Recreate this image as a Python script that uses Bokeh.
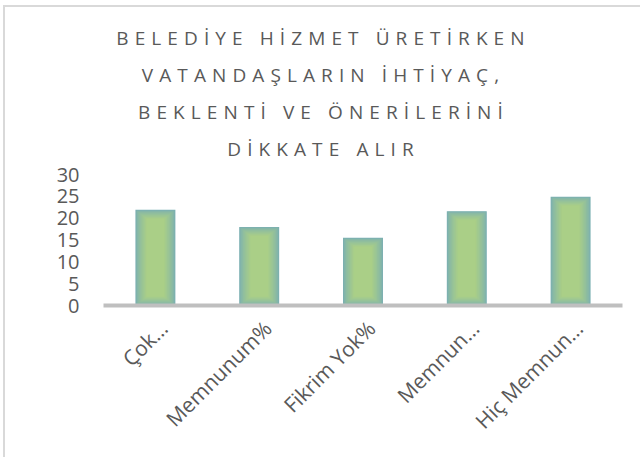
from bokeh.plotting import figure
from bokeh.models import (Range1d, Div, FixedTicker, ColumnDataSource,
                          InlineStyleSheet, LinearAxis)
from bokeh.layouts import column
from bokeh.embed import file_html
from bokeh.resources import INLINE

# ---- data ----
categories = ["Çok…", "Memnunum%", "Fikrim Yok%", "Memnun…", "Hiç Memnun…"]
values = [21.9, 18.0, 15.5, 21.6, 24.9]
title_lines = ["BELEDİYE HİZMET ÜRETİRKEN", "VATANDAŞLARIN İHTİYAÇ,",
               "BEKLENTİ VE ÖNERİLERİNİ", "DİKKATE ALIR"]
y_ticks = [0, 5, 10, 15, 20, 25, 30]

TXT = "#595959"
FONT = "Open Sans"

# ---- title as HTML (letter spaced) ----
title_html = "<br>".join(title_lines)
div = Div(
    text=(f'<div style="font-family:\'{FONT}\';font-size:19px;letter-spacing:6.1px;'
          f'line-height:37px;color:{TXT};text-align:center;white-space:nowrap;'
          f'padding-top:15px;padding-left:13px;box-sizing:border-box;width:624px;">'
          f'{title_html}</div>'),
    width=624, height=150,
)

# ---- chart ----
n_cat = len(categories)
cat_pos = [i + 0.5 for i in range(n_cat)]   # category centres
label_shift = 0.08  # Excel places rotated labels slightly right of centre
p = figure(
    width=624, height=291,
    x_range=Range1d(0, n_cat),
    y_range=Range1d(0, 30),
    x_axis_location=None,
    output_backend="svg", toolbar_location=None,
    min_border_left=103, min_border_right=2,
    min_border_top=14, min_border_bottom=146,
)
p.extra_x_ranges = {"lab": Range1d(-label_shift, n_cat - label_shift)}
p.outline_line_color = None
p.background_fill_color = "white"
p.border_fill_color = "white"
p.xgrid.grid_line_color = None
p.ygrid.grid_line_color = None

# layered bars to mimic the teal-edge / green-centre gradient
edge = (122, 175, 178)
center = (170, 207, 135)
n = 16
px_x = 103.8   # pixels per category
px_y = 4.37    # pixels per y unit
bar_w = 0.385
for k in range(n):
    t = (k / (n - 1)) ** 0.75
    col = tuple(int(round(edge[i] + (center[i] - edge[i]) * t)) for i in range(3))
    inset_x = k * 0.75
    inset_y = k * 0.6
    src = ColumnDataSource(dict(
        x=cat_pos,
        top=[v - inset_y / px_y for v in values],
        bottom=[inset_y / px_y for _ in values],
    ))
    p.vbar(x="x", top="top", bottom="bottom", width=bar_w - 2 * inset_x / px_x,
           source=src, fill_color="#%02x%02x%02x" % col, line_color=None)

# y axis
p.yaxis.ticker = FixedTicker(ticks=y_ticks)
p.yaxis.axis_line_color = None
p.yaxis.major_tick_line_color = None
p.yaxis.minor_tick_line_color = None
p.yaxis.major_label_standoff = 18
p.yaxis.major_label_text_font = FONT
p.yaxis.major_label_text_font_size = "20px"
p.yaxis.major_label_text_color = TXT

# x axis: category labels
xaxis = LinearAxis(
    x_range_name="lab",
    ticker=FixedTicker(ticks=cat_pos),
    major_label_overrides={pos: lab for pos, lab in zip(cat_pos, categories)},
    axis_line_color="#bfbfbf", axis_line_width=4,
    major_tick_line_color=None, minor_tick_line_color=None,
    major_label_orientation=0.785398, major_label_standoff=13,
    major_label_text_font=FONT, major_label_text_font_size="21px",
    major_label_text_color=TXT,
)
p.add_layout(xaxis, "below")

frame_css = InlineStyleSheet(css="""
:host::before {
  content: "";
  position: fixed;
  left: 3px; top: 5px;
  width: 660px; height: 480px;
  border-left: 2px solid #d9d9d9;
  border-top: 2px solid #d9d9d9;
  pointer-events: none;
  z-index: 10;
}
""")

layout = column(div, p, stylesheets=[frame_css])

open("out.html", "w").write(file_html(layout, INLINE))
